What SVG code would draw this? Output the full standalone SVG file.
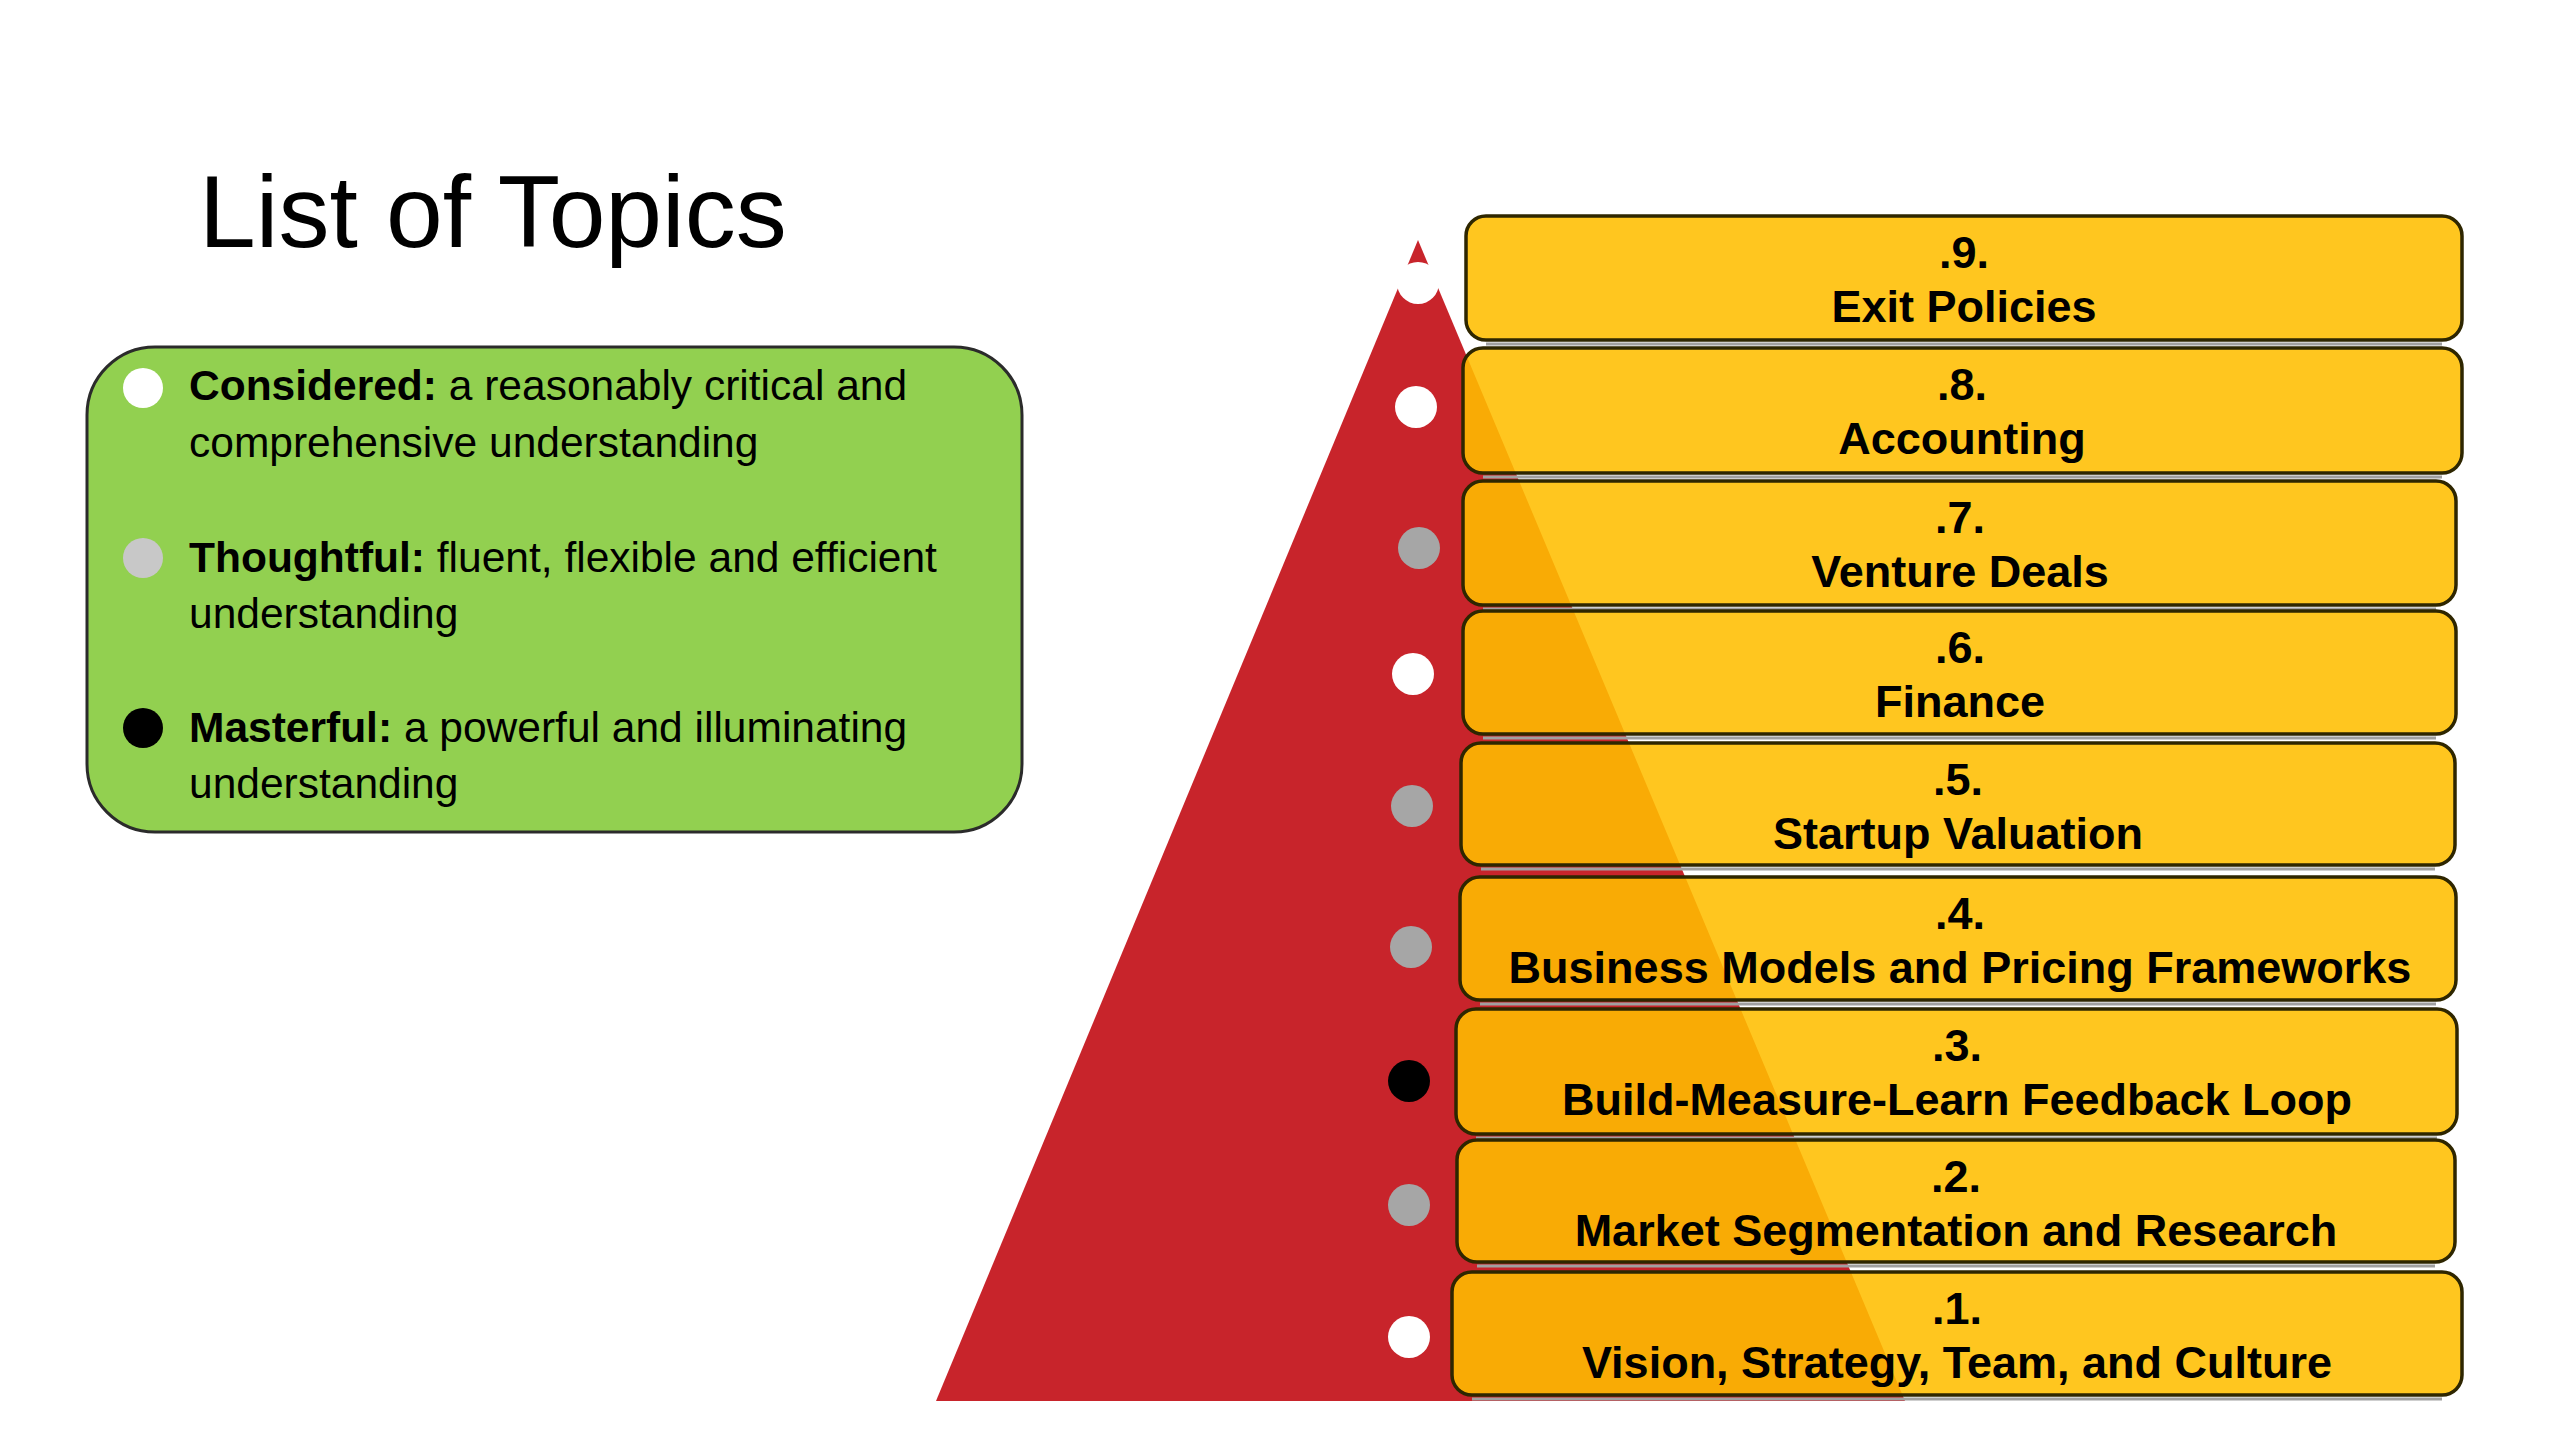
<svg xmlns="http://www.w3.org/2000/svg" width="2560" height="1440" viewBox="0 0 2560 1440">
<style>
.bg{fill:#ffffff}
.title{font-family:"Liberation Sans",Arial,sans-serif;font-size:102px;fill:#000}
.legend{fill:#92D050;stroke:#2b2b2b;stroke-width:3}
.lt{font-family:"Liberation Sans",Arial,sans-serif;font-size:42.5px;fill:#000}
.b{font-weight:bold}
.box{fill:#FFBE00;fill-opacity:0.88;stroke:#2e2600;stroke-width:3.5}
.shadow{stroke:#a0a0a0;stroke-width:3;fill:none}
.bt{font-family:"Liberation Sans",Arial,sans-serif;font-size:45px;font-weight:bold;fill:#000;text-anchor:middle}
.tri{fill:#C8242B}
.w{fill:#ffffff}
.g{fill:#A6A6A6}
.k{fill:#000000}
.lg{fill:#C8C8C8}
</style>
<rect class="bg" x="0" y="0" width="2560" height="1440"/>
<text id="title" class="title" x="199" y="247">List of Topics</text>

<g id="legend">
<rect class="legend" x="87" y="347" width="935" height="485" rx="68" ry="68"/>
<circle class="w" cx="143" cy="388" r="20"/>
<circle class="lg" cx="143" cy="558" r="20"/>
<circle class="k" cx="143" cy="728" r="20"/>
<text class="lt" x="189" y="400"><tspan class="b">Considered:</tspan> a reasonably critical and</text>
<text class="lt" x="189" y="457">comprehensive understanding</text>
<text class="lt" x="189" y="572"><tspan class="b">Thoughtful:</tspan> fluent, flexible and efficient</text>
<text class="lt" x="189" y="628">understanding</text>
<text class="lt" x="189" y="742"><tspan class="b">Masterful:</tspan> a powerful and illuminating</text>
<text class="lt" x="189" y="798">understanding</text>
</g>

<g id="pyramid">
<polygon class="tri" points="1418,240 1905,1401 936,1401"/>
</g>

<g id="topic9">
<line class="shadow" x1="1486" y1="344" x2="2442" y2="344"/>
<rect class="box" x="1466" y="216" width="996" height="124" rx="20"/>
<text class="bt" x="1964" y="268">.9.</text>
<text class="bt" x="1964" y="322">Exit Policies</text>
</g>
<g id="topic8">
<line class="shadow" x1="1483" y1="477" x2="2442" y2="477"/>
<rect class="box" x="1463" y="348" width="999" height="125" rx="20"/>
<text class="bt" x="1962" y="400">.8.</text>
<text class="bt" x="1962" y="454">Accounting</text>
</g>
<g id="topic7">
<line class="shadow" x1="1483" y1="609" x2="2436" y2="609"/>
<rect class="box" x="1463" y="481" width="993" height="124" rx="20"/>
<text class="bt" x="1960" y="533">.7.</text>
<text class="bt" x="1960" y="587">Venture Deals</text>
</g>
<g id="topic6">
<line class="shadow" x1="1483" y1="738" x2="2436" y2="738"/>
<rect class="box" x="1463" y="611" width="993" height="123" rx="20"/>
<text class="bt" x="1960" y="663">.6.</text>
<text class="bt" x="1960" y="717">Finance</text>
</g>
<g id="topic5">
<line class="shadow" x1="1481" y1="869" x2="2435" y2="869"/>
<rect class="box" x="1461" y="743" width="994" height="122" rx="20"/>
<text class="bt" x="1958" y="795">.5.</text>
<text class="bt" x="1958" y="849">Startup Valuation</text>
</g>
<g id="topic4">
<line class="shadow" x1="1480" y1="1004" x2="2436" y2="1004"/>
<rect class="box" x="1460" y="877" width="996" height="123" rx="20"/>
<text class="bt" x="1960" y="929">.4.</text>
<text class="bt" x="1960" y="983">Business Models and Pricing Frameworks</text>
</g>
<g id="topic3">
<line class="shadow" x1="1476" y1="1138" x2="2437" y2="1138"/>
<rect class="box" x="1456" y="1009" width="1001" height="125" rx="20"/>
<text class="bt" x="1957" y="1061">.3.</text>
<text class="bt" x="1957" y="1115">Build-Measure-Learn Feedback Loop</text>
</g>
<g id="topic2">
<line class="shadow" x1="1477" y1="1266" x2="2435" y2="1266"/>
<rect class="box" x="1457" y="1140" width="998" height="122" rx="20"/>
<text class="bt" x="1956" y="1192">.2.</text>
<text class="bt" x="1956" y="1246">Market Segmentation and Research</text>
</g>
<g id="topic1">
<line class="shadow" x1="1472" y1="1399" x2="2442" y2="1399"/>
<rect class="box" x="1452" y="1272" width="1010" height="123" rx="20"/>
<text class="bt" x="1957" y="1324">.1.</text>
<text class="bt" x="1957" y="1378">Vision, Strategy, Team, and Culture</text>
</g>

<g id="markers">
<circle class="w" cx="1418" cy="283" r="21"/>
<circle class="w" cx="1416" cy="407" r="21"/>
<circle class="g" cx="1419" cy="548" r="21"/>
<circle class="w" cx="1413" cy="674" r="21"/>
<circle class="g" cx="1412" cy="806" r="21"/>
<circle class="g" cx="1411" cy="947" r="21"/>
<circle class="k" cx="1409" cy="1081" r="21"/>
<circle class="g" cx="1409" cy="1205" r="21"/>
<circle class="w" cx="1409" cy="1337" r="21"/>
</g>
<g id="connectors"></g>
</svg>
